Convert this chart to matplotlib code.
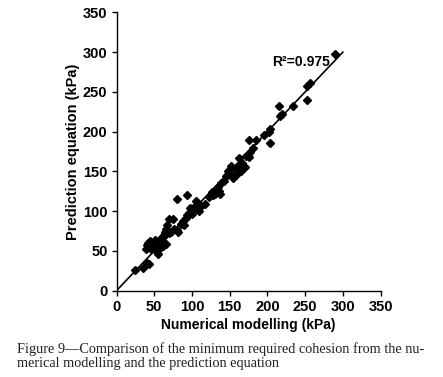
import matplotlib
matplotlib.use("Agg")
import matplotlib.pyplot as plt

numerical = [24, 35, 43, 41,
             39, 40, 42, 44, 45, 47, 48, 50, 51, 52, 53, 55, 56, 57, 58, 59, 60, 62, 63, 64, 66, 67, 65, 61, 54, 46,
             70, 75, 70, 72, 76, 80, 80, 82, 86, 88, 90, 92, 94, 93, 96, 98, 100, 102, 104, 106, 108, 110, 112,
             117, 123, 126, 128, 130, 132, 134, 136, 137, 139, 142, 145, 148, 150, 152, 155, 157, 158, 160, 163,
             165, 167, 170, 172, 175, 177,
             176, 181, 185, 196, 202, 204, 204, 216, 217, 219, 234, 252, 252, 257, 290]
prediction = [26, 29, 33, 35,
              52, 58, 60, 56, 62, 59, 55, 61, 64, 57, 50, 46, 53, 63, 58, 66, 62, 68, 70, 74, 78, 82, 59, 56, 60, 52,
              90, 90, 72, 74, 78, 76, 115, 74, 84, 88, 82, 92, 120, 95, 98, 104, 96, 103, 106, 113, 103, 100, 106,
              109, 118, 124, 120, 122, 127, 130, 126, 122, 136, 138, 144, 151, 147, 157, 142, 153, 145, 155, 167,
              150, 160, 155, 170, 168, 174,
              190, 180, 190, 196, 200, 203, 186, 232, 220, 222, 232, 240, 257, 261, 298]
fit_x = [0, 300]
fit_y = [0, 300]
r2_label = "R²=0.975"
xlabel = "Numerical modelling (kPa)"
ylabel = "Prediction equation (kPa)"
caption_lines = ["Figure 9\u2014Comparison of the minimum required cohesion from the nu-",
                 "merical modelling and the prediction equation"]
ticks = [0, 50, 100, 150, 200, 250, 300, 350]

plt.rcParams['font.family'] = ['Liberation Sans', 'DejaVu Sans']

fig = plt.figure(figsize=(4.43, 3.77), dpi=100)
ax = fig.add_axes([0.263, 0.229, 0.596, 0.738])

ax.plot(fit_x, fit_y, color='black', lw=1.2, zorder=2)
ax.plot(numerical, prediction, linestyle='none', marker='D', ms=3.6,
        color='black', zorder=3)

ax.set_xlim(0, 350)
ax.set_ylim(0, 350)
ax.set_xticks(ticks)
ax.set_yticks(ticks)
for lbl in ax.get_xticklabels() + ax.get_yticklabels():
    lbl.set_fontweight('bold')
ax.tick_params(axis='both', labelsize=10.5, length=3.5, width=1, direction='out', pad=3)
ax.spines['top'].set_visible(False)
ax.spines['right'].set_visible(False)
ax.spines['left'].set_linewidth(1)
ax.spines['bottom'].set_linewidth(1)

ax.set_xlabel(xlabel, fontsize=10, fontweight='bold', labelpad=3)
ax.set_ylabel(ylabel, fontsize=10.5, fontweight='bold', labelpad=2)

ax.text(283, 288, r2_label, ha='right', va='center', fontsize=10, fontweight='bold')

for i, line in enumerate(caption_lines):
    fig.text(17 / 443, 1 - (353.5 + 14 * i) / 377, line, ha='left', va='baseline',
             fontsize=10.3, family=['Liberation Serif', 'DejaVu Serif'],
             color='#231f20')

fig.savefig("out.png", dpi=100)
